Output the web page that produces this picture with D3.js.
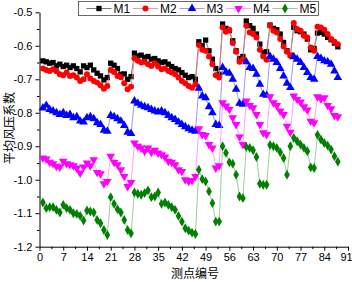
<!DOCTYPE html>
<html lang="zh">
<head>
<meta charset="UTF-8">
<title>平均风压系数</title>
<script src="https://d3js.org/d3.v7.min.js"></script>
<style>
  body { margin: 0; background: #fff; }
  svg { display: block; font-family: "Liberation Sans", Arial, sans-serif; }
  .axis path, .axis line { stroke: #000; }
  .axis text { font-size: 11px; fill: #000; }
</style>
</head>
<body>
<div id="chart"></div>
<script>
// measuring points 1..88
var points = d3.range(1, 89);

var m1 = [-0.645,-0.648,-0.652,-0.650,-0.660,-0.655,-0.662,-0.658,-0.665,-0.660,-0.668,-0.678,-0.660,-0.665,-0.658,-0.672,-0.682,-0.690,-0.702,-0.695,
  -0.652,-0.658,-0.668,-0.685,-0.684,-0.700,-0.692,
  -0.622,-0.630,-0.628,-0.635,-0.632,-0.640,-0.638,-0.645,-0.650,-0.648,-0.655,-0.662,-0.668,-0.672,-0.680,-0.688,-0.695,-0.692,-0.700,
  -0.588,-0.600,-0.583,-0.615,-0.640,-0.668,-0.685,
  -0.535,-0.548,-0.555,-0.585,-0.615,-0.638,-0.632,
  -0.526,-0.540,-0.548,-0.565,-0.595,-0.620,-0.618,
  -0.538,-0.548,-0.552,-0.565,-0.590,-0.615,-0.628,
  -0.545,-0.555,-0.558,-0.565,-0.580,-0.612,-0.608,
  -0.562,-0.560,-0.565,-0.575,-0.582,-0.592,-0.603];

var m2 = [-0.668,-0.672,-0.675,-0.670,-0.676,-0.685,-0.688,-0.680,-0.690,-0.688,-0.695,-0.705,-0.700,-0.685,-0.698,-0.705,-0.710,-0.718,-0.728,-0.720,
  -0.672,-0.678,-0.690,-0.694,-0.712,-0.730,-0.722,
  -0.637,-0.645,-0.650,-0.648,-0.655,-0.660,-0.652,-0.662,-0.670,-0.668,-0.675,-0.680,-0.685,-0.695,-0.705,-0.712,-0.720,-0.725,-0.715,
  -0.598,-0.612,-0.615,-0.632,-0.655,-0.688,-0.695,
  -0.545,-0.558,-0.552,-0.592,-0.618,-0.648,-0.640,
  -0.540,-0.560,-0.565,-0.575,-0.612,-0.632,-0.642,
  -0.540,-0.555,-0.560,-0.580,-0.602,-0.618,-0.630,
  -0.532,-0.550,-0.555,-0.570,-0.575,-0.605,-0.615,
  -0.543,-0.545,-0.552,-0.565,-0.580,-0.588,-0.595];

var m3 = [-0.786,-0.778,-0.790,-0.795,-0.800,-0.805,-0.800,-0.808,-0.805,-0.815,-0.812,-0.825,-0.828,-0.815,-0.812,-0.818,-0.830,-0.835,-0.852,-0.855,
  -0.808,-0.812,-0.818,-0.825,-0.838,-0.858,-0.862,
  -0.765,-0.772,-0.778,-0.782,-0.785,-0.790,-0.795,-0.798,-0.795,-0.800,-0.808,-0.815,-0.820,-0.828,-0.835,-0.842,-0.848,-0.852,-0.855,
  -0.727,-0.750,-0.755,-0.782,-0.800,-0.835,-0.838,
  -0.665,-0.678,-0.682,-0.700,-0.730,-0.772,-0.775,
  -0.648,-0.665,-0.668,-0.685,-0.715,-0.745,-0.748,
  -0.632,-0.640,-0.650,-0.668,-0.690,-0.712,-0.725,
  -0.633,-0.640,-0.650,-0.665,-0.680,-0.695,-0.700,
  -0.632,-0.638,-0.645,-0.648,-0.655,-0.675,-0.695];

var m4 = [-0.935,-0.938,-0.948,-0.952,-0.960,-0.962,-0.945,-0.952,-0.955,-0.958,-0.965,-0.980,-0.962,-0.950,-0.958,-0.940,-0.978,-0.982,-1.012,-1.005,
  -0.930,-0.948,-0.955,-0.970,-0.990,-1.020,-1.008,
  -0.890,-0.900,-0.905,-0.915,-0.905,-0.918,-0.912,-0.920,-0.925,-0.932,-0.945,-0.948,-0.955,-0.970,-0.975,-1.000,-1.005,-1.002,-0.990,
  -0.848,-0.865,-0.868,-0.895,-0.905,-0.965,-0.958,
  -0.770,-0.780,-0.790,-0.815,-0.835,-0.872,-0.895,
  -0.765,-0.778,-0.785,-0.805,-0.835,-0.860,-0.865,
  -0.752,-0.770,-0.778,-0.795,-0.805,-0.840,-0.858,
  -0.750,-0.760,-0.768,-0.782,-0.792,-0.825,-0.830,
  -0.752,-0.758,-0.755,-0.778,-0.788,-0.808,-0.812];

var m5 = [-1.068,-1.085,-1.082,-1.082,-1.090,-1.098,-1.075,-1.085,-1.090,-1.100,-1.102,-1.108,-1.122,-1.092,-1.095,-1.098,-1.120,-1.130,-1.150,-1.165,
  -1.052,-1.072,-1.088,-1.098,-1.120,-1.150,-1.160,
  -1.038,-1.042,-1.045,-1.040,-1.032,-1.052,-1.050,-1.038,-1.072,-1.068,-1.075,-1.082,-1.090,-1.108,-1.125,-1.145,-1.152,-1.158,-1.162,
  -0.970,-0.998,-1.005,-1.035,-1.070,-1.125,-1.125,
  -0.900,-0.920,-0.948,-0.952,-0.985,-1.050,-1.055,
  -0.902,-0.905,-0.912,-0.932,-1.012,-1.015,-1.015,
  -0.896,-0.900,-0.905,-0.918,-0.935,-0.985,-0.900,
  -0.875,-0.885,-0.895,-0.905,-0.915,-0.963,-0.965,
  -0.866,-0.880,-0.890,-0.898,-0.910,-0.930,-0.946];

var seriesNames = ["M1", "M2", "M3", "M4", "M5"];
var xTicks = d3.range(0, 92, 7);
var yTicks = [-0.5, -0.6, -0.7, -0.8, -0.9, -1.0, -1.1, -1.2];

var colors = ["#000000", "#ff0000", "#0000ff", "#ff00ff", "#008000"];
var lineColors = ["#555555", "#f08080", "#8080ff", "#ff88ff", "#80c080"];
var symbols = [d3.symbolSquare, d3.symbolCircle, d3.symbolTriangle, d3.symbolTriangle, d3.symbolDiamond];
var symSizes = [28, 28, 32, 32, 28];

var width = 352, height = 282;
var margin = {left: 39.5, right: 4, top: 12.3, bottom: 35.3};

var svg = d3.select("#chart").append("svg")
    .attr("width", width)
    .attr("height", height);

var x = d3.scaleLinear().domain([0, 91]).range([margin.left, width - margin.right]);
var y = d3.scaleLinear().domain([-1.2, -0.5]).range([height - margin.bottom, margin.top]);

var allSeries = [m1, m2, m3, m4, m5];

// minor ticks
svg.append("g")
    .attr("class", "axis")
    .attr("transform", "translate(0," + y(-1.2) + ")")
    .call(d3.axisBottom(x).tickValues(d3.range(3.5, 91, 7)).tickSize(2.5).tickFormat(""))
    .select(".domain").remove();
svg.append("g")
    .attr("class", "axis")
    .attr("transform", "translate(" + x(0) + ",0)")
    .call(d3.axisLeft(y).tickValues(d3.range(-1.15, -0.5, 0.1)).tickSize(2.5).tickFormat(""))
    .select(".domain").remove();

var xAxisG = svg.append("g")
    .attr("class", "axis")
    .attr("transform", "translate(0," + y(-1.2) + ")")
    .call(d3.axisBottom(x).tickValues(xTicks).tickSizeInner(4).tickSizeOuter(0).tickPadding(3));
// last label sits at the window edge, nudge it in a little
xAxisG.selectAll(".tick text").filter(function(d) { return d === 91; }).attr("dx", -2);

svg.append("g")
    .attr("class", "axis")
    .attr("transform", "translate(" + x(0) + ",0)")
    .call(d3.axisLeft(y).tickValues(yTicks).tickSizeInner(4).tickSizeOuter(0).tickPadding(3)
        .tickFormat(function(d) { return d.toFixed(1); }));

// lines + markers
var line = d3.line()
    .x(function(d, i) { return x(points[i]); })
    .y(function(d) { return y(d); });

allSeries.forEach(function(vals, s) {
    svg.append("path")
        .datum(vals)
        .attr("fill", "none")
        .attr("stroke", lineColors[s])
        .attr("stroke-width", 0.8)
        .attr("d", line);

    svg.append("g").selectAll("path")
        .data(vals)
        .enter().append("path")
        .attr("d", d3.symbol().type(symbols[s]).size(symSizes[s]))
        .attr("transform", function(d, i) {
            return "translate(" + x(points[i]) + "," + y(d) + ")" + (s === 3 ? " rotate(180)" : "");
        })
        .attr("fill", colors[s]);
});

// legend
var legend = svg.append("g").attr("transform", "translate(78.5,1.5)");
legend.append("rect")
    .attr("width", 240)
    .attr("height", 14)
    .attr("fill", "#fff")
    .attr("stroke", "#444")
    .attr("stroke-width", 0.8);

seriesNames.forEach(function(name, s) {
    var g = legend.append("g").attr("transform", "translate(" + (8 + s * 46.5) + ",7)");
    g.append("line").attr("x1", 0).attr("x2", 25).attr("stroke", lineColors[s]).attr("stroke-width", 0.8);
    g.append("path")
        .attr("d", d3.symbol().type(symbols[s]).size(symSizes[s]))
        .attr("transform", "translate(12.5,0)" + (s === 3 ? " rotate(180)" : ""))
        .attr("fill", colors[s]);
    g.append("text")
        .attr("x", 27)
        .attr("y", 4.5)
        .style("font-size", "12px")
        .text(name);
});

// axis titles
svg.append("text")
    .attr("transform", "translate(13.5," + 128 + ") rotate(-90)")
    .attr("text-anchor", "middle")
    .style("font-family", "'Noto Sans CJK SC', sans-serif")
    .style("font-size", "12px")
    .text("平均风压系数");

svg.append("text")
    .attr("x", 195)
    .attr("y", 278)
    .attr("text-anchor", "middle")
    .style("font-family", "'Noto Sans CJK SC', sans-serif")
    .style("font-size", "12px")
    .text("测点编号");
</script>
</body>
</html>
